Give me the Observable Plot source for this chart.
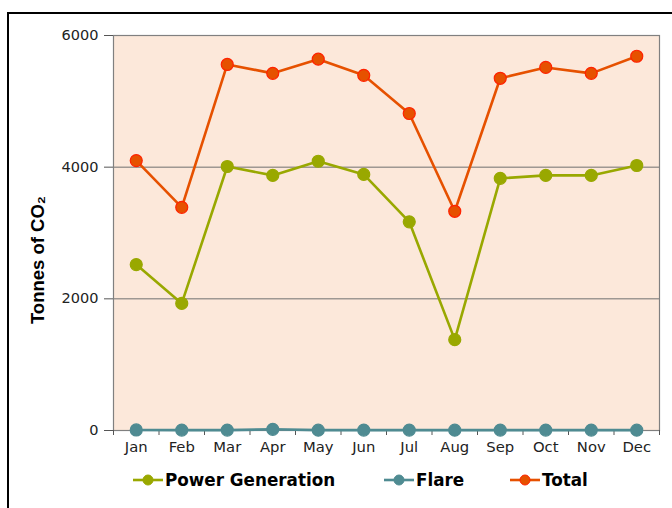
<!DOCTYPE html>
<html>
<head>
<meta charset="utf-8">
<script src="https://cdn.jsdelivr.net/npm/d3@7"></script>
<script src="https://cdn.jsdelivr.net/npm/@observablehq/plot@0.6"></script>
<style>
  body { margin: 0; background: #fff; }
  #wrap { position: relative; width: 672px; height: 508px; overflow: hidden; background: #fff; }
  #border { position: absolute; left: 7px; top: 12px; width: 700px; height: 520px; border-left: 2px solid #000; border-top: 2px solid #000; box-sizing: border-box; }
  #chart { position: absolute; left: 0; top: 0; }
  #legend { position: absolute; left: 0; top: 467px; width: 672px; height: 26px; font-family: "DejaVu Sans", Verdana, sans-serif; font-weight: bold; font-size: 16.8px; color: #000; }
  .item { position: absolute; top: 0; display: flex; align-items: center; height: 26px; white-space: nowrap; }
  .item svg { margin-right: 2px; }
</style>
</head>
<body>
<div id="wrap">
  <div id="border"></div>
  <div id="chart"></div>
  <div id="legend"></div>
</div>
<script>
const months = ["Jan","Feb","Mar","Apr","May","Jun","Jul","Aug","Sep","Oct","Nov","Dec"];
const powerGeneration = [2520, 1930, 4010, 3875, 4090, 3890, 3170, 1380, 3830, 3875, 3875, 4025];
const flare = [8, 6, 6, 18, 5, 6, 6, 5, 6, 6, 6, 5];
const total = [4100, 3390, 5560, 5425, 5640, 5395, 4815, 3330, 5350, 5515, 5425, 5685];
const yTicks = [0, 2000, 4000, 6000];
const seriesNames = ["Power Generation", "Flare", "Total"];
const seriesColors = { "Power Generation": "#99a800", "Flare": "#4f8b92", "Total": "#e65100" };
const seriesStroke = { "Power Generation": "#99a800", "Flare": "#4f8b92", "Total": "#ff2200" };

const seriesValues = { "Power Generation": powerGeneration, "Flare": flare, "Total": total };
const data = [];
for (const s of seriesNames) {
  seriesValues[s].forEach((v, i) => data.push({ series: s, i, value: v }));
}
const boundaries = d3.range(-0.5, 12, 1);

const chart = Plot.plot({
  width: 672,
  height: 460,
  marginLeft: 113,
  marginRight: 13,
  marginTop: 35,
  marginBottom: 30,
  style: { fontFamily: "DejaVu Sans, Verdana, sans-serif", fontSize: "14.5px", color: "#222", background: "transparent" },
  x: { type: "linear", domain: [-0.5, 11.5] },
  y: { domain: [0, 6000] },
  marks: [
    Plot.frame({ fill: "#fce8da", stroke: null }),
    Plot.gridY(yTicks, { stroke: "#707070", strokeOpacity: 1, strokeWidth: 1 }),
    Plot.frame({ stroke: "#808080", strokeWidth: 1.2 }),
    Plot.axisY({ ticks: yTicks, tickSize: 9, tickPadding: 6, stroke: "#555", label: null, fontSize: 14.5, tickFormat: d => String(d) }),
    Plot.axisX({ ticks: boundaries, tickSize: 5, tickFormat: () => "", stroke: "#555", label: null }),
    Plot.axisX({ ticks: d3.range(12), tickSize: 0, tickPadding: 11, fontSize: 14.8, tickFormat: i => months[i], label: null }),
    Plot.line(data, { x: "i", y: "value", z: "series", stroke: d => seriesColors[d.series], strokeWidth: 2.6 }),
    Plot.dot(data, { x: "i", y: "value", r: 6, fill: d => seriesColors[d.series], stroke: d => seriesStroke[d.series], strokeWidth: 1.2 }),
    Plot.text(["Tonnes of CO₂"], { frameAnchor: "left", rotate: -90, dx: -75, dy: 27, textAnchor: "middle", fontSize: 18.5, fontWeight: "bold", fontFamily: "Liberation Sans, Arial, sans-serif", fill: "#000" })
  ]
});
document.getElementById("chart").appendChild(chart);

const legendPos = { "Power Generation": 133, "Flare": 384, "Total": 510 };
const legend = document.getElementById("legend");
for (const s of seriesNames) {
  const item = document.createElement("div");
  item.className = "item";
  item.style.left = legendPos[s] + "px";
  item.innerHTML = `<svg width="30" height="14"><line x1="0" x2="30" y1="7" y2="7" stroke="${seriesColors[s]}" stroke-width="2.6"/><circle cx="15" cy="7" r="5" fill="${seriesColors[s]}" stroke="${seriesStroke[s]}" stroke-width="1"/></svg><span>${s}</span>`;
  legend.appendChild(item);
}
</script>
</body>
</html>
